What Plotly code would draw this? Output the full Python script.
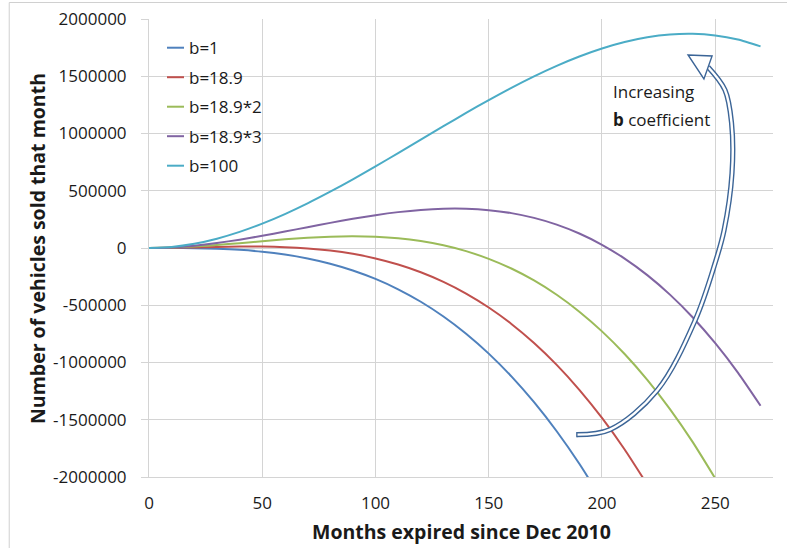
import plotly.graph_objects as go

# Months since Dec 2010 (x values shared by every series)
months = list(range(0, 271, 10))

series_names = ["b=1", "b=18.9", "b=18.9*2", "b=18.9*3", "b=100"]
series_colors = ["#4F81BD", "#C0504D", "#9BBB59", "#8064A2", "#4BACC6"]

# Vehicles sold per month for each b coefficient
sales_b1 = [0, -180, -1840, -6660, -16320, -32500, -56880, -91140, -136960,
            -196020, -270000, -360580, -469440, -598260, -748720, -922500,
            -1121280, -1346740, -1600560, -1884420, -2200000]
sales_b18_9 = [0, 1610, 5320, 9450, 12320, 12250, 7560, -3430, -22400, -51030,
               -91000, -143990, -211680, -295750, -397880, -519750, -663040,
               -829430, -1020600, -1238230, -1484000, -1759590, -2066680]
sales_b37_8 = [0, 3500, 12880, 26460, 42560, 59500, 75600, 89180, 98560, 102060,
               98000, 84700, 60480, 23660, -27440, -94500, -179200, -283220,
               -408240, -555940, -728000, -926100, -1151920, -1407140, -1693440,
               -2012500]
sales_b56_7 = [0, 5390, 20440, 43470, 72800, 106750, 143640, 181790, 219520,
               255150, 287000, 313390, 332640, 343070, 343000, 330750, 304640,
               262990, 204120, 126350, 28000, -92610, -237160, -407330, -604800,
               -831250, -1088360, -1377810]
sales_b100 = [0, 9600, 37400, 81600, 140700, 212900, 296600, 390100, 491700,
              599900, 712800, 829000, 946600, 1064100, 1179800, 1292000, 1399000,
              1499200, 1591000, 1672600, 1742400, 1798700, 1840000, 1864400,
              1870400, 1856300, 1820300, 1760900]

series_values = [sales_b1, sales_b18_9, sales_b37_8, sales_b56_7, sales_b100]

x_ticks = [0, 50, 100, 150, 200, 250]
x_tick_labels = ["0", "50", "100", "150", "200", "250"]
y_ticks = [-2000000, -1500000, -1000000, -500000, 0, 500000, 1000000, 1500000, 2000000]
y_tick_labels = ["-2000000", "-1500000", "-1000000", "-500000", "0",
                 "500000", "1000000", "1500000", "2000000"]

# Curved "increasing b" arrow, in data units (months, vehicles)
arrow_x = [188.9, 203.5, 224.3, 241.1, 249.9, 253.9, 257.4, 257.2, 254.3, 246.8]
arrow_y = [-1630000, -1586000, -1245000, -632500, -133900, 154900, 653500,
           1091000, 1380000, 1581000]
head_x = [238.0, 248.6, 245.0]
head_y = [1686000, 1677000, 1476000]
tail_half_width = 23000

FONT = "Open Sans"
TEXT = "#1a1a1a"
GRID = "#D4D4D4"
ARROW = "#3C6597"

fig = go.Figure()

for name, color, values in zip(series_names, series_colors, series_values):
    fig.add_trace(go.Scatter(
        x=months[:len(values)], y=values, name=name, mode="lines",
        line=dict(color=color, width=2, shape="spline", smoothing=0.6),
        hoverinfo="skip",
    ))

# Arrow shaft: dark outline stroke with a white core
fig.add_trace(go.Scatter(x=arrow_x, y=arrow_y, mode="lines", hoverinfo="skip",
                         line=dict(color=ARROW, width=5.2, shape="spline", smoothing=1)))
fig.add_trace(go.Scatter(x=arrow_x, y=arrow_y, mode="lines", hoverinfo="skip",
                         line=dict(color="white", width=2.4, shape="spline", smoothing=1)))

head_path = "M {},{} L {},{} L {},{} Z".format(
    head_x[0], head_y[0], head_x[1], head_y[1], head_x[2], head_y[2])
shapes = [
    dict(type="path", xref="x", yref="y", path=head_path,
         fillcolor="white", line=dict(color=ARROW, width=1.4)),
    # closed tail of the arrow
    dict(type="line", xref="x", yref="y", x0=arrow_x[0], x1=arrow_x[0],
         y0=arrow_y[0] - tail_half_width, y1=arrow_y[0] + tail_half_width,
         line=dict(color=ARROW, width=1.3)),
    # outer chart frame
    dict(type="rect", xref="paper", yref="paper", x0=-0.224, x1=1.06,
         y0=-0.2, y1=1.036, line=dict(color="#D0D0D0", width=1)),
]

# Legend drawn as short line samples with labels
annotations = []
leg_top, leg_step = 0.9373, 0.0644
for i, (name, color) in enumerate(zip(series_names, series_colors)):
    yy = leg_top - i * leg_step
    shapes.append(dict(type="line", xref="paper", yref="paper", x0=0.0288, x1=0.0561,
                       y0=yy, y1=yy, line=dict(color=color, width=2)))
    annotations.append(dict(xref="paper", yref="paper", x=0.0609, y=yy, text=name,
                            showarrow=False, xanchor="left", yanchor="middle",
                            font=dict(family=FONT, size=17, color=TEXT)))

annotations.append(dict(xref="paper", yref="paper", x=0.7404, y=0.8420,
                        text="Increasing", showarrow=False, xanchor="left",
                        yanchor="middle", font=dict(family=FONT, size=17, color=TEXT)))
annotations.append(dict(xref="paper", yref="paper", x=0.7404, y=0.7810,
                        text="<b>b</b> coefficient", showarrow=False, xanchor="left",
                        yanchor="middle", font=dict(family=FONT, size=17, color=TEXT)))

# Axis titles placed as annotations
annotations.append(dict(xref="paper", yref="paper", x=0.5, y=-0.118,
                        text="<b>Months expired since Dec 2010</b>", showarrow=False,
                        xanchor="center", yanchor="middle",
                        font=dict(family=FONT, size=19.5, color=TEXT)))
annotations.append(dict(xref="paper", yref="paper", x=-0.1795, y=0.5,
                        text="<b>Number of vehicles sold that month</b>", showarrow=False,
                        textangle=-90, xanchor="center", yanchor="middle",
                        font=dict(family=FONT, size=19.5, color=TEXT)))

fig.update_layout(
    width=787, height=548,
    margin=dict(l=149, r=14, t=19, b=71, autoexpand=False),
    paper_bgcolor="white", plot_bgcolor="white",
    showlegend=False,
    font=dict(family=FONT, size=17, color=TEXT),
    shapes=shapes, annotations=annotations,
    xaxis=dict(
        range=[0, 275.5], tickvals=x_ticks, ticktext=x_tick_labels,
        showgrid=True, gridcolor=GRID, gridwidth=1, zeroline=False,
        showline=True, linecolor=GRID, linewidth=1, automargin=False,
        ticks="", ticklabelstandoff=11,
    ),
    yaxis=dict(
        range=[-2000000, 2000000], tickvals=y_ticks, ticktext=y_tick_labels,
        showgrid=True, gridcolor=GRID, gridwidth=1, zeroline=False,
        showline=True, linecolor=GRID, linewidth=1, automargin=False,
        ticks="outside", ticklen=7, tickcolor=GRID, ticklabelstandoff=11,
    ),
)

fig.write_html("out.html")
